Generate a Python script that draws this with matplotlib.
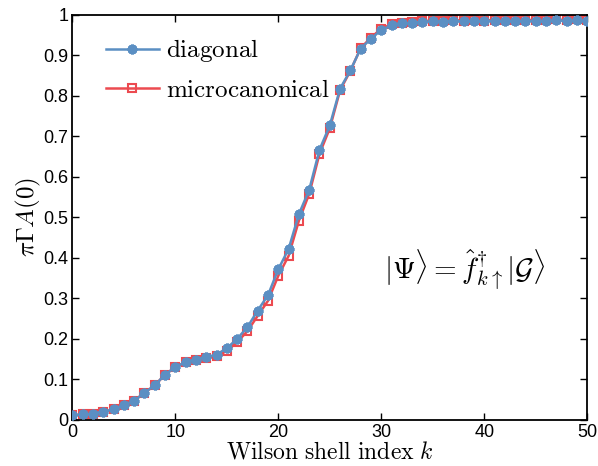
import matplotlib
matplotlib.use("Agg")
import matplotlib.pyplot as plt
import numpy as np

plt.rcParams['mathtext.fontset'] = 'cm'
plt.rcParams['font.family'] = ['Liberation Sans', 'DejaVu Sans']

k = np.arange(0, 51)

diagonal = [0.011, 0.014, 0.015, 0.020, 0.026, 0.037, 0.047, 0.067, 0.085, 0.112,
            0.130, 0.143, 0.149, 0.155, 0.161, 0.177, 0.200, 0.229, 0.270, 0.308,
            0.372, 0.422, 0.508, 0.568, 0.667, 0.727, 0.818, 0.863, 0.917, 0.941,
            0.963, 0.974, 0.979, 0.981, 0.983, 0.984, 0.983, 0.985, 0.984, 0.986,
            0.984, 0.986, 0.985, 0.986, 0.985, 0.986, 0.985, 0.987, 0.985, 0.987,
            0.985]

microcanonical = [0.011, 0.014, 0.015, 0.020, 0.026, 0.037, 0.047, 0.067, 0.085, 0.112,
                  0.130, 0.143, 0.149, 0.152, 0.158, 0.170, 0.192, 0.219, 0.257, 0.294,
                  0.356, 0.405, 0.492, 0.558, 0.657, 0.720, 0.814, 0.862, 0.918, 0.944,
                  0.966, 0.977, 0.981, 0.983, 0.985, 0.986, 0.985, 0.987, 0.986, 0.988,
                  0.986, 0.988, 0.987, 0.988, 0.987, 0.988, 0.987, 0.989, 0.987, 0.989,
                  0.987]

blue = '#5b8fc3'
red = '#ec4a50'

fig = plt.figure(figsize=(5.98, 4.66), dpi=100)
ax = fig.add_axes([0.121, 0.099, 0.861, 0.869])

ax.plot(k, microcanonical, color=red, lw=1.8, marker='s', markersize=6,
        markerfacecolor='none', markeredgecolor=red, markeredgewidth=1.5,
        label=r'$\mathrm{microcanonical}$', zorder=2)
ax.plot(k, diagonal, color=blue, lw=1.8, marker=(8, 2, 0), markersize=7,
        markeredgecolor=blue, markeredgewidth=2.2,
        label=r'$\mathrm{diagonal}$', zorder=3)

ax.set_xlim(0, 50)
ax.set_ylim(0, 1)
ax.set_xticks(np.arange(0, 51, 10))
ax.set_yticks(np.arange(0, 1.01, 0.1))
ax.set_yticklabels(['0', '0.1', '0.2', '0.3', '0.4', '0.5', '0.6', '0.7', '0.8', '0.9', '1'])
ax.tick_params(direction='in', top=True, right=True, labelsize=13, length=5,
               width=1, pad=3)
for s in ax.spines.values():
    s.set_linewidth(1.3)

ax.set_xlabel(r'$\mathrm{Wilson\ shell\ index}\ k$', fontsize=17, labelpad=0)
ax.set_ylabel(r'$\pi\Gamma A(0)$', fontsize=18, labelpad=0)

handles, labels = ax.get_legend_handles_labels()
ax.legend(handles[::-1], labels[::-1], loc='upper left', bbox_to_anchor=(0.022, 1.0),
          frameon=False, fontsize=18, handlelength=2.1, labelspacing=0.55,
          handletextpad=0.3)

ax.text(38.1, 0.37, r'$|\Psi\rangle = \hat{f}^{\dagger}_{k\uparrow}|\mathcal{G}\rangle$',
        fontsize=21, ha='center', va='center')

fig.savefig('out.png', dpi=100)
